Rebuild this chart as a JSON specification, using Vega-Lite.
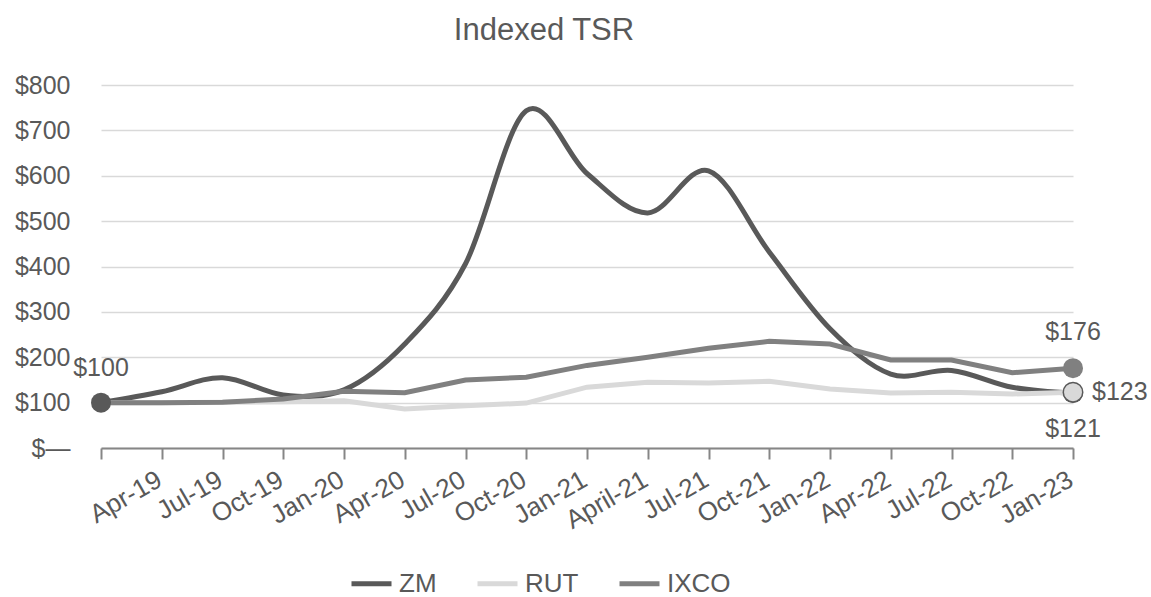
{
  "$schema": "https://vega.github.io/schema/vega-lite/v6.json",
  "width": 972,
  "height": 363,
  "autosize": {"type": "none"},
  "padding": {"left": 101, "top": 85, "right": 78, "bottom": 149},
  "background": "white",
  "config": {"font": "Liberation Sans", "view": {"stroke": null}},
  "title": {"text": "Indexed TSR", "font": "Liberation Sans", "fontSize": 31, "fontWeight": "normal", "color": "#595959", "anchor": "middle", "offset": 26, "dx": -43},
  "data": {
    "values": [
      {"period": "IPO", "series": "ZM", "value": 100},
      {"period": "Apr-19", "series": "ZM", "value": 124},
      {"period": "Jul-19", "series": "ZM", "value": 155},
      {"period": "Oct-19", "series": "ZM", "value": 117},
      {"period": "Jan-20", "series": "ZM", "value": 128},
      {"period": "Apr-20", "series": "ZM", "value": 229},
      {"period": "Jul-20", "series": "ZM", "value": 406},
      {"period": "Oct-20", "series": "ZM", "value": 743},
      {"period": "Jan-21", "series": "ZM", "value": 605},
      {"period": "April-21", "series": "ZM", "value": 518},
      {"period": "Jul-21", "series": "ZM", "value": 611},
      {"period": "Oct-21", "series": "ZM", "value": 432},
      {"period": "Jan-22", "series": "ZM", "value": 263},
      {"period": "Apr-22", "series": "ZM", "value": 163},
      {"period": "Jul-22", "series": "ZM", "value": 171},
      {"period": "Oct-22", "series": "ZM", "value": 134},
      {"period": "Jan-23", "series": "ZM", "value": 121},
      {"period": "IPO", "series": "IXCO", "value": 100},
      {"period": "Apr-19", "series": "IXCO", "value": 100},
      {"period": "Jul-19", "series": "IXCO", "value": 101},
      {"period": "Oct-19", "series": "IXCO", "value": 108},
      {"period": "Jan-20", "series": "IXCO", "value": 125},
      {"period": "Apr-20", "series": "IXCO", "value": 122},
      {"period": "Jul-20", "series": "IXCO", "value": 150},
      {"period": "Oct-20", "series": "IXCO", "value": 156},
      {"period": "Jan-21", "series": "IXCO", "value": 182},
      {"period": "April-21", "series": "IXCO", "value": 200},
      {"period": "Jul-21", "series": "IXCO", "value": 220},
      {"period": "Oct-21", "series": "IXCO", "value": 235},
      {"period": "Jan-22", "series": "IXCO", "value": 229},
      {"period": "Apr-22", "series": "IXCO", "value": 194},
      {"period": "Jul-22", "series": "IXCO", "value": 194},
      {"period": "Oct-22", "series": "IXCO", "value": 166},
      {"period": "Jan-23", "series": "IXCO", "value": 176},
      {"period": "IPO", "series": "RUT", "value": 100},
      {"period": "Apr-19", "series": "RUT", "value": 100},
      {"period": "Jul-19", "series": "RUT", "value": 101},
      {"period": "Oct-19", "series": "RUT", "value": 102},
      {"period": "Jan-20", "series": "RUT", "value": 104},
      {"period": "Apr-20", "series": "RUT", "value": 86},
      {"period": "Jul-20", "series": "RUT", "value": 93},
      {"period": "Oct-20", "series": "RUT", "value": 99},
      {"period": "Jan-21", "series": "RUT", "value": 134},
      {"period": "April-21", "series": "RUT", "value": 145},
      {"period": "Jul-21", "series": "RUT", "value": 143},
      {"period": "Oct-21", "series": "RUT", "value": 147},
      {"period": "Jan-22", "series": "RUT", "value": 130},
      {"period": "Apr-22", "series": "RUT", "value": 121},
      {"period": "Jul-22", "series": "RUT", "value": 123},
      {"period": "Oct-22", "series": "RUT", "value": 119},
      {"period": "Jan-23", "series": "RUT", "value": 123}
    ]
  },
  "encoding": {
    "x": {
      "field": "period",
      "type": "ordinal",
      "sort": null,
      "scale": {"type": "point", "padding": 0, "domain": ["IPO", "Apr-19", "Jul-19", "Oct-19", "Jan-20", "Apr-20", "Jul-20", "Oct-20", "Jan-21", "April-21", "Jul-21", "Oct-21", "Jan-22", "Apr-22", "Jul-22", "Oct-22", "Jan-23"]},
      "axis": {
        "title": null,
        "grid": false,
        "labelAngle": -30,
        "labelAlign": "right",
        "labelBaseline": "top",
        "labelFontSize": 26,
        "labelColor": "#595959",
        "labelExpr": "datum.value === 'IPO' ? '' : datum.value",
        "labelOverlap": false,
        "labelBound": false,
        "labelFlush": false,
        "labelPadding": 7,
        "labelOffset": -9,
        "domainColor": "#868686",
        "domainWidth": 2,
        "tickColor": "#868686",
        "tickWidth": 2,
        "tickSize": 11
      }
    },
    "y": {
      "field": "value",
      "type": "quantitative",
      "scale": {"domain": [0, 800]},
      "axis": {
        "title": null,
        "values": [0, 100, 200, 300, 400, 500, 600, 700, 800],
        "labelExpr": "datum.value === 0 ? '$—' : '$' + datum.value",
        "labelFontSize": 25,
        "labelColor": "#595959",
        "ticks": false,
        "domain": false,
        "labelPadding": 31,
        "gridColor": "#d9d9d9",
        "gridWidth": 1.5
      }
    }
  },
  "layer": [
    {
      "transform": [{"filter": "datum.series === 'ZM'"}],
      "mark": {"type": "line", "interpolate": "cardinal", "strokeWidth": 5},
      "encoding": {
        "color": {
          "field": "series",
          "type": "nominal",
          "scale": {"domain": ["ZM", "RUT", "IXCO"], "range": ["#595959", "#d9d9d9", "#808080"]},
          "legend": {
            "orient": "none",
            "legendX": 248,
            "legendY": 476,
            "direction": "horizontal",
            "title": null,
            "symbolType": "stroke",
            "symbolSize": 1600,
            "symbolStrokeWidth": 5,
            "labelFontSize": 26,
            "labelColor": "#595959",
            "labelOffset": 5,
            "columnPadding": 30
          }
        }
      }
    },
    {
      "transform": [{"filter": "datum.series === 'RUT'"}],
      "mark": {"type": "line", "strokeWidth": 5},
      "encoding": {"color": {"field": "series", "type": "nominal"}}
    },
    {
      "transform": [{"filter": "datum.series === 'IXCO'"}],
      "mark": {"type": "line", "strokeWidth": 5},
      "encoding": {"color": {"field": "series", "type": "nominal"}}
    },
    {
      "transform": [{"filter": "(datum.series === 'ZM' && datum.period === 'IPO') || (datum.series === 'ZM' && datum.period === 'Jan-23')"}],
      "mark": {"type": "point", "shape": "circle", "filled": true, "size": 400, "color": "#595959", "opacity": 1}
    },
    {
      "transform": [{"filter": "datum.series === 'IXCO' && datum.period === 'Jan-23'"}],
      "mark": {"type": "point", "shape": "circle", "filled": true, "size": 400, "color": "#808080", "opacity": 1}
    },
    {
      "transform": [{"filter": "datum.series === 'RUT' && datum.period === 'Jan-23'"}],
      "mark": {"type": "point", "shape": "circle", "size": 380, "fill": "#d9d9d9", "stroke": "#595959", "strokeWidth": 1.5, "opacity": 1, "fillOpacity": 1}
    },
    {
      "transform": [{"filter": "datum.series === 'ZM' && datum.period === 'IPO'"}],
      "mark": {"type": "text", "dy": -35, "fontSize": 25, "color": "#595959", "baseline": "middle", "align": "center"},
      "encoding": {"text": {"field": "value", "type": "quantitative", "format": "$.0f"}}
    },
    {
      "transform": [{"filter": "datum.series === 'IXCO' && datum.period === 'Jan-23'"}],
      "mark": {"type": "text", "dy": -36, "fontSize": 25, "color": "#595959", "baseline": "middle", "align": "center"},
      "encoding": {"text": {"field": "value", "type": "quantitative", "format": "$.0f"}}
    },
    {
      "transform": [{"filter": "datum.series === 'RUT' && datum.period === 'Jan-23'"}],
      "mark": {"type": "text", "dx": 19, "fontSize": 25, "color": "#595959", "baseline": "middle", "align": "left"},
      "encoding": {"text": {"field": "value", "type": "quantitative", "format": "$.0f"}}
    },
    {
      "transform": [{"filter": "datum.series === 'ZM' && datum.period === 'Jan-23'"}],
      "mark": {"type": "text", "dy": 36, "fontSize": 25, "color": "#595959", "baseline": "middle", "align": "center"},
      "encoding": {"text": {"field": "value", "type": "quantitative", "format": "$.0f"}}
    }
  ]
}
